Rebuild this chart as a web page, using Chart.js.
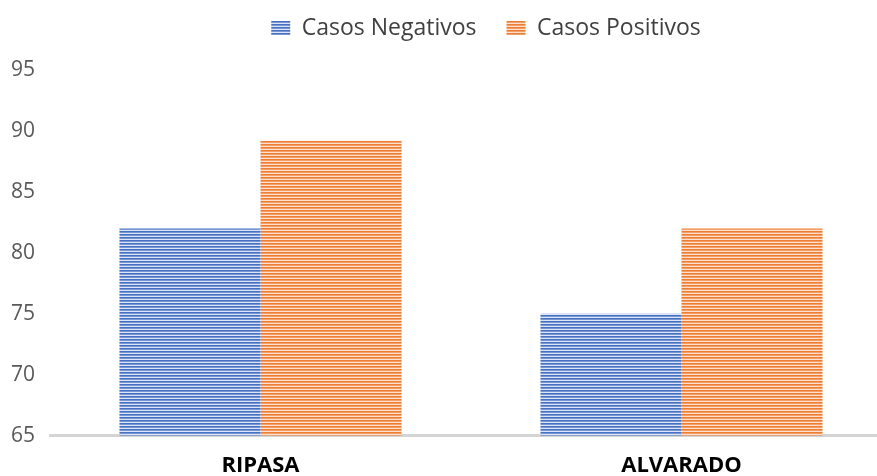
<!DOCTYPE html>
<html>
<head>
<meta charset="utf-8">
<script src="https://cdn.jsdelivr.net/npm/chart.js@4/dist/chart.umd.min.js"></script>
<style>
  html, body { margin: 0; padding: 0; background: #fff; overflow: hidden; }
  canvas { display: block; }
</style>
</head>
<body>
<canvas id="myChart" width="892" height="506"></canvas>
<script>
const categories = ['RIPASA', 'ALVARADO'];
const casosNegativos = [82, 75];
const casosPositivos = [89.2, 82];
const yTicks = [65, 70, 75, 80, 85, 90, 95];

// horizontal stripe fill, like the original
function stripes(main, mid, light) {
	const c = document.createElement('canvas');
	c.width = 4;
	c.height = 3;
	const g = c.getContext('2d');
	g.fillStyle = main;
	g.fillRect(0, 0, 4, 1);
	g.fillStyle = mid;
	g.fillRect(0, 1, 4, 1);
	g.fillStyle = light;
	g.fillRect(0, 2, 4, 1);
	return g.createPattern(c, 'repeat');
}

const ctx = document.getElementById('myChart').getContext('2d');
const bluePat = stripes('#4472C4', '#7895d2', '#dbe3f4');
const orangePat = stripes('#ED7D31', '#f29e66', '#fbe0cf');

// legend sits a bit right of centre and leaves a gap above the plot
const legendTweak = {
	id: 'legendTweak',
	beforeInit(chart) {
		const fit = chart.legend.fit;
		chart.legend.fit = function () {
			fit.call(this);
			this.height += 20.5;
		};
	},
	afterLayout(chart) {
		chart.legend.left += 40;
		chart.legend.right += 40;
	}
};

new Chart(ctx, {
	type: 'bar',
	data: {
		labels: categories,
		datasets: [
			{
				label: 'Casos Negativos',
				data: casosNegativos,
				backgroundColor: bluePat,
				borderWidth: 0
			},
			{
				label: 'Casos Positivos',
				data: casosPositivos,
				backgroundColor: orangePat,
				borderWidth: 0
			}
		]
	},
	plugins: [legendTweak],
	options: {
		responsive: false,
		animation: false,
		layout: { padding: { top: -13.5, left: 0, right: 0, bottom: 10 } },
		datasets: {
			bar: { categoryPercentage: 0.67, barPercentage: 1.0 }
		},
		plugins: {
			legend: {
				position: 'top',
				labels: {
					boxWidth: 19,
					boxHeight: 14,
					padding: 30,
					color: '#404040',
					font: { family: "'Open Sans', sans-serif", size: 23 }
				}
			},
			tooltip: { enabled: false }
		},
		scales: {
			x: {
				grid: { display: false, drawTicks: false },
				border: { display: true, color: '#d4d4d4', width: 3 },
				ticks: {
					color: '#000',
					padding: 17,
					font: { family: "'Open Sans', sans-serif", size: 22, weight: 'bold' }
				}
			},
			y: {
				min: 65,
				max: 95,
				afterBuildTicks: s => { s.ticks = yTicks.map(v => ({ value: v })); },
				afterFit: s => { s.width = 50; },
				grid: { display: false, drawTicks: false },
				border: { display: false },
				ticks: {
					color: '#595959',
					padding: 15,
					font: { family: "'Open Sans', sans-serif", size: 21 }
				}
			}
		}
	}
});
</script>
</body>
</html>
